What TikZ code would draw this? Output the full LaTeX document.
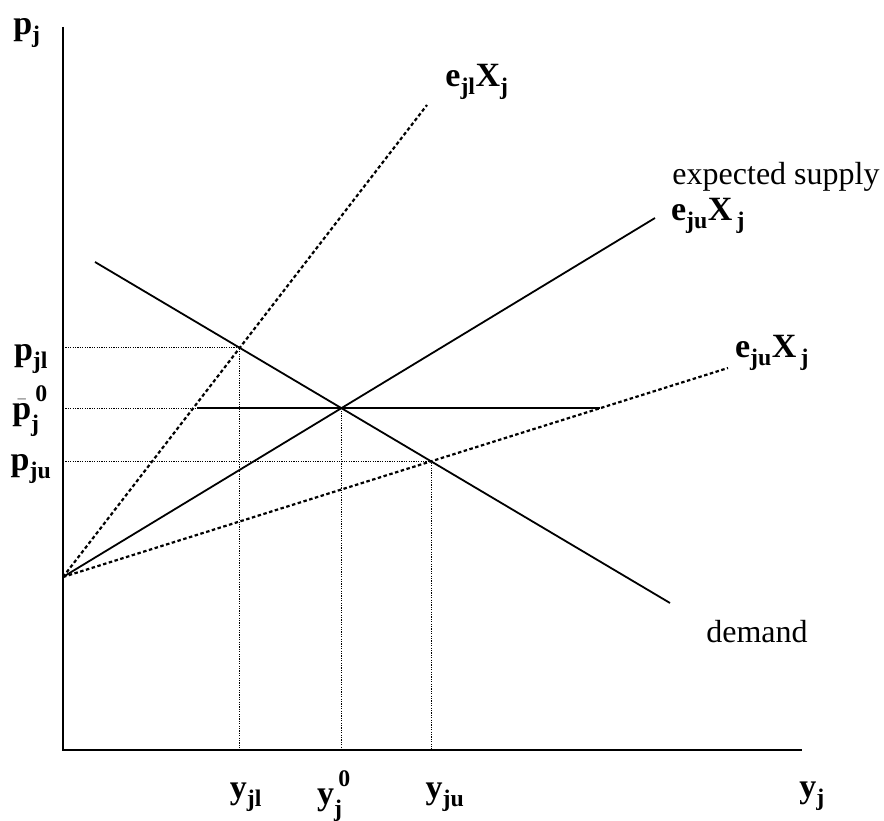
\documentclass[tikz,border=0pt]{standalone}
\usepackage{fontspec}
\setmainfont{Liberation Serif}
\usetikzlibrary{calc}
\newcommand{\supz}{\mathbf{0}\rule[-9pt]{0pt}{9pt}}
\newcommand{\subj}{\mathbf{j}\rule{0pt}{19pt}}
\begin{document}
\begin{tikzpicture}[x=1pt,y=-1pt,
  axisline/.style={line width=2pt},
  solidline/.style={line width=1.8pt},
  supplydots/.style={line width=2.2pt,dash pattern=on 3.5pt off 2.5pt},
  guidedots/.style={line width=1.1pt,dash pattern=on 1.2pt off 1.2pt},
  lbl/.style={inner sep=0pt,font=\fontsize{32}{36}\selectfont},
  blbl/.style={inner sep=0pt,font=\fontsize{34}{36}\selectfont\bfseries}]
\useasboundingbox (0,0) rectangle (884,821);
% axes
\coordinate (ytop) at (63,27);
\coordinate (orig) at (63,750);
\coordinate (xend) at (802,750);
\draw[axisline] (ytop) -- (orig) -- (xend);
% key points
\coordinate (O) at (63,577);
\coordinate (ejlend) at (427,105);
\coordinate (esend) at (655,218);
\coordinate (ejuend) at (728,368);
\coordinate (d1) at (95,262);
\coordinate (d2) at (670,603);
\coordinate (A) at (intersection of O--ejlend and d1--d2);
\coordinate (E) at (intersection of O--esend and d1--d2);
\coordinate (B) at (intersection of O--ejuend and d1--d2);
\coordinate (Hs) at (197,0 |- E);
\coordinate (Ef) at ($(E)+(10,0)$);
\coordinate (He) at (intersection of O--ejuend and E--Ef);
% supply lines
\draw[supplydots] (O) -- (ejlend);
\draw[solidline] (O) -- (esend);
\draw[supplydots] (O) -- (ejuend);
% demand
\draw[solidline] (d1) -- (d2);
% horizontal at equilibrium price
\draw[solidline] (Hs) -- (He);
% guides
\draw[guidedots] (ytop |- A) -- (A) -- (A |- orig);
\draw[guidedots] (ytop |- E) -- (Hs);
\draw[guidedots] (E) -- (E |- orig);
\draw[guidedots] (ytop |- B) -- (B) -- (B |- orig);
% labels
\node[blbl] (lpj) at (27,33) {$\mathbf{p}_{\mathbf{j}}$};
\node[blbl] (lpjl) at (31,359) {$\mathbf{p}_{\mathbf{jl}}$};
\node[blbl] (lpbar) at (30,411) {$\bar{\mathbf{p}}_{\subj}^{\,\supz}$};
\node[blbl] (lpju) at (31,469) {$\mathbf{p}_{\mathbf{ju}}$};
\node[blbl] (lejl) at (477,82) {$\mathbf{e}_{\mathbf{jl}}\mathbf{X}_{\mathbf{j}}$};
\node[lbl] (lexp) at (776,177) {expected supply};
\node[blbl] (leju1) at (708,216) {$\mathbf{e}_{\mathbf{ju}}\mathbf{X}_{\,\mathbf{j}}$};
\node[blbl] (leju2) at (772,353) {$\mathbf{e}_{\mathbf{ju}}\mathbf{X}_{\,\mathbf{j}}$};
\node[lbl] (ldem) at (757,632) {demand};
\node[blbl] (lyjl) at (246,797) {$\mathbf{y}_{\mathbf{jl}}$};
\node[blbl] (lyj0) at (334,796) {$\mathbf{y}_{\subj}^{\,\supz}$};
\node[blbl] (lyju) at (445,797) {$\mathbf{y}_{\mathbf{ju}}$};
\node[blbl] (lyj) at (812,796) {$\mathbf{y}_{\mathbf{j}}$};
\end{tikzpicture}
\end{document}
